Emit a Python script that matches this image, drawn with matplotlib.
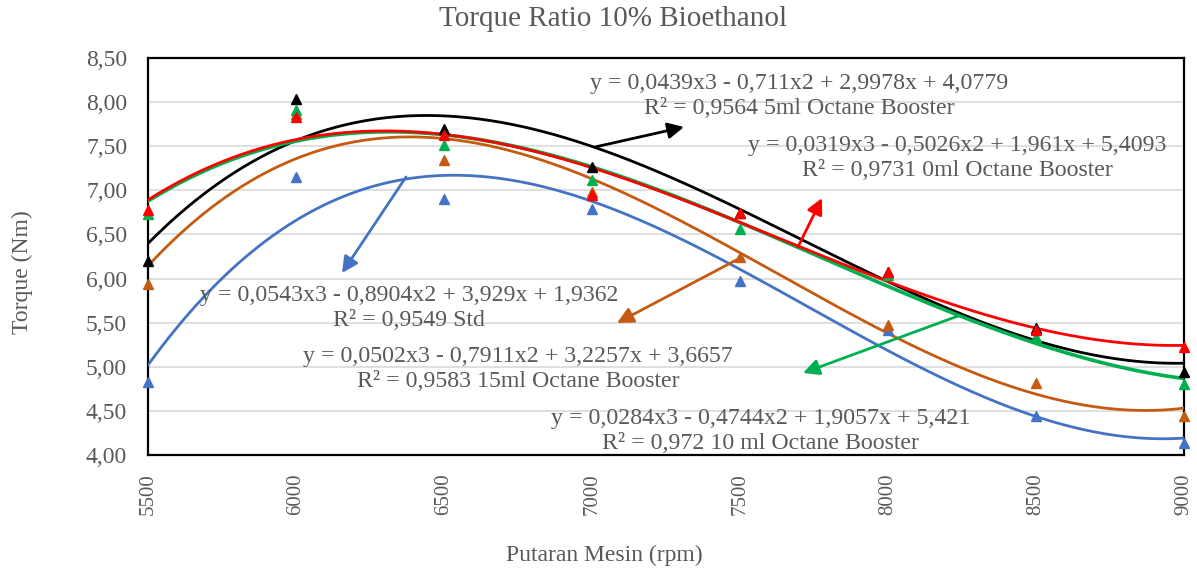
import numpy as np
import matplotlib
matplotlib.use("Agg")
import matplotlib.pyplot as plt
from matplotlib.ticker import FuncFormatter

plt.rcParams['font.family'] = ['Liberation Serif', 'DejaVu Serif']

W, H = 1197, 571

rpm = [5500, 6000, 6500, 7000, 7500, 8000, 8500, 9000]
tick_labels = ["5500", "6000", "6500", "7000", "7500", "8000", "8500", "9000"]

std = [4.83, 7.15, 6.90, 6.79, 5.97, 5.42, 4.44, 4.14]
ml0 = [6.78, 7.83, 7.63, 6.95, 6.74, 6.07, 5.42, 5.22]
ml5 = [6.20, 8.03, 7.70, 7.27, 6.74, 6.07, 5.44, 4.94]
ml10 = [6.73, 7.91, 7.51, 7.12, 6.56, 6.04, 5.34, 4.80]
ml15 = [5.94, 7.87, 7.34, 6.98, 6.25, 5.47, 4.82, 4.44]

eq_std = "y = 0,0543x3 - 0,8904x2 + 3,929x + 1,9362\nR\u00b2 = 0,9549 Std"
eq_0 = "y = 0,0319x3 - 0,5026x2 + 1,961x + 5,4093\nR\u00b2 = 0,9731 0ml Octane Booster"
eq_5 = "y = 0,0439x3 - 0,711x2 + 2,9978x + 4,0779\nR\u00b2 = 0,9564 5ml Octane Booster"
eq_10 = "y = 0,0284x3 - 0,4744x2 + 1,9057x + 5,421\nR\u00b2 = 0,972 10 ml Octane Booster"
eq_15 = "y = 0,0502x3 - 0,7911x2 + 3,2257x + 3,6657\nR\u00b2 = 0,9583 15ml Octane Booster"

C_BLUE = "#4472C4"
C_BROWN = "#C55A11"
C_BLACK = "#000000"
C_GREEN = "#00B050"
C_RED = "#FF0000"
TXT = "#595959"

fig = plt.figure(figsize=(W / 100, H / 100), dpi=100)
ax = fig.add_axes([148 / W, 1 - 455 / H, 1036 / W, 397 / H])

x = np.array(rpm, dtype=float)
t = (x - x[0]) / 500.0 + 1
tt = np.linspace(t[0], t[-1], 300)
xx = x[0] + (tt - 1) * 500.0

series = [
    (std, C_BLUE, 2.0),
    (ml15, C_BROWN, 2.0),
    (ml5, C_BLACK, 2.0),
    (ml10, C_GREEN, 2.6),
    (ml0, C_RED, 2.0),
]
for ys, c, lw in series:
    coef = np.polyfit(t, np.array(ys), 3)
    ax.plot(xx, np.polyval(coef, tt), color=c, lw=lw, zorder=3, solid_capstyle='round')
for ys, c, lw in series:
    ax.plot(x, ys, linestyle='none', marker='^', ms=6.5, color=c, zorder=4,
            clip_on=False)

ax.set_xlim(5500, 9000)
ax.set_ylim(4.0, 8.5)
ax.set_yticks(np.arange(4.0, 8.51, 0.5))
ax.yaxis.set_major_formatter(FuncFormatter(lambda v, p: f"{v:.2f}".replace(".", ",")))
ax.set_xticks(rpm)
ax.set_xticklabels(tick_labels, rotation=90)
ax.tick_params(axis='both', length=0, colors=TXT)
ax.tick_params(axis='y', labelsize=17, pad=15)
ax.tick_params(axis='x', labelsize=15, pad=13)
ax.grid(axis='y', color='#D9D9D9', lw=1.2, zorder=0)
ax.set_axisbelow(True)
for s in ax.spines.values():
    s.set_color('black')
    s.set_linewidth(1.6)

def fp(px, py):
    return (px / W, 1 - py / H)

fig.text(*fp(613, 19), "Torque Ratio 10% Bioethanol", ha='center', va='center',
         fontsize=21, color=TXT)
fig.text(*fp(604, 555), "Putaran Mesin (rpm)", ha='center', va='center',
         fontsize=17, color=TXT)
fig.text(*fp(22, 272), "Torque (Nm)", ha='center', va='center', rotation=90,
         fontsize=17, color=TXT)

labels = [
    (eq_5, 799, 96),
    (eq_0, 957, 158),
    (eq_std, 409, 308),
    (eq_15, 518, 369),
    (eq_10, 761, 431),
]
for s, cx, cy in labels:
    fig.text(*fp(cx, cy), s, ha='center', va='center', fontsize=17.2,
             color=TXT, linespacing=1.24, zorder=5)

arrows = [
    (C_BLACK, (595, 147), (684, 127)),
    (C_RED, (798, 247), (822, 198)),
    (C_BLUE, (406, 177), (342, 273)),
    (C_BROWN, (742, 257), (617, 323)),
    (C_GREEN, (958, 316), (803, 373)),
]
for c, tail, head in arrows:
    ax.annotate("", xy=fp(*head), xycoords='figure fraction',
                xytext=fp(*tail), textcoords='figure fraction',
                arrowprops=dict(arrowstyle='-|>', color=c, lw=2,
                                mutation_scale=24, shrinkA=0, shrinkB=0),
                zorder=6)

fig.savefig("out.png", dpi=100)
